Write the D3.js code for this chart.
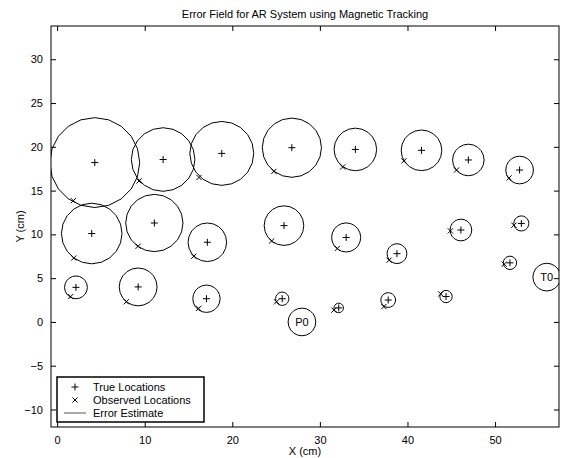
<!DOCTYPE html>
<html>
<head>
<meta charset="utf-8">
<script src="https://cdn.jsdelivr.net/npm/d3@7"></script>
<style>
body{margin:0;background:#fff;}
text{font-family:"Liberation Sans",Arial,Helvetica,sans-serif;}
</style>
</head>
<body>
<svg id="c" width="563" height="458"></svg>
<script>
// True locations (X, Y in cm)
const trueX = [4.3, 12.1, 18.8, 26.8, 34.05, 41.6, 46.95, 52.8,
               3.95, 11.1, 17.15, 25.9, 33.0, 38.8, 46.1, 53.0, 51.7,
               2.15, 9.25, 17.05, 25.7, 32.15, 37.8, 44.4];
const trueY = [18.2, 18.55, 19.25, 19.9, 19.7, 19.6, 18.5, 17.35,
               10.1, 11.3, 9.1, 11.0, 9.65, 7.8, 10.5, 11.25, 6.75,
               3.95, 4.0, 2.65, 2.65, 1.6, 2.5, 2.9];
// Observed locations
const obsX = [1.85, 9.35, 16.2, 24.75, 32.6, 39.6, 45.6, 51.6,
              1.9, 9.25, 15.6, 24.5, 32.0, 37.9, 44.9, 52.15, 51.05,
              1.55, 7.9, 16.15, 25.05, 31.6, 37.3, 43.8];
const obsY = [13.85, 16.1, 16.5, 17.2, 17.7, 18.4, 17.35, 16.45,
              7.3, 8.65, 7.5, 9.25, 8.4, 7.05, 10.4, 11.05, 6.6,
              2.9, 2.3, 1.55, 2.3, 1.35, 1.75, 3.2];
// Error estimate radius (cm)
const errR = [5.13, 3.63, 3.65, 3.38, 2.43, 2.32, 1.8, 1.58,
              3.46, 3.27, 2.2, 2.26, 1.66, 1.13, 1.24, 0.86, 0.76,
              1.3, 2.16, 1.56, 0.76, 0.54, 0.84, 0.7];
// Reference circles
const refLabels = ["P0", "T0"];
const refX = [27.95, 55.9];
const refY = [0.0, 5.12];
const refR = [1.58, 1.58];

const xTicks = [0, 10, 20, 30, 40, 50];
const yTicks = [-10, -5, 0, 5, 10, 15, 20, 25, 30];
const legendLabels = ["True Locations", "Observed Locations", "Error Estimate"];

const svg = d3.select("#c");
const L = 51, R = 559, T = 26, B = 427;
const x = d3.scaleLinear().domain([-0.7, 57.3]).range([L, R]);
const y = d3.scaleLinear().domain([-12, 33.8]).range([B, T]);
const k = x(1) - x(0);

svg.append("defs").append("clipPath").attr("id", "clip")
  .append("rect").attr("x", L).attr("y", T).attr("width", R - L).attr("height", B - T);

const plot = svg.append("g").attr("clip-path", "url(#clip)");

function poly(cx, cy, r, n) {
  const pts = d3.range(n + 1).map(i => {
    const a = i / n * 2 * Math.PI;
    return [x(cx) + r * k * Math.cos(a), y(cy) + r * k * Math.sin(a)];
  });
  return d3.line()(pts);
}

// error circles
trueX.forEach((v, i) => {
  plot.append("path").attr("d", poly(v, trueY[i], errR[i], 20))
    .attr("fill", "none").attr("stroke", "#000").attr("stroke-width", 1);
});
// reference circles
refX.forEach((v, i) => {
  plot.append("path").attr("d", poly(v, refY[i], refR[i], 20))
    .attr("fill", "none").attr("stroke", "#000").attr("stroke-width", 1);
  plot.append("text").attr("x", x(v)).attr("y", y(refY[i]) + 4)
    .attr("text-anchor", "middle").attr("font-size", 11).text(refLabels[i]);
});
// plus markers
const ps = 3.5;
trueX.forEach((v, i) => {
  const cx = x(v), cy = y(trueY[i]);
  plot.append("path").attr("d", `M${cx-ps},${cy}H${cx+ps}M${cx},${cy-ps}V${cy+ps}`)
    .attr("stroke", "#000").attr("stroke-width", 1);
});
// x markers
const xs = 2.6;
obsX.forEach((v, i) => {
  const cx = x(v), cy = y(obsY[i]);
  plot.append("path").attr("d", `M${cx-xs},${cy-xs}L${cx+xs},${cy+xs}M${cx-xs},${cy+xs}L${cx+xs},${cy-xs}`)
    .attr("stroke", "#000").attr("stroke-width", 1);
});

// axes box
svg.append("rect").attr("x", L).attr("y", T).attr("width", R - L).attr("height", B - T)
  .attr("fill", "none").attr("stroke", "#000").attr("stroke-width", 1);

const tl = 5;
const bottomAxis = d3.axisBottom(x).tickValues(xTicks).tickSizeInner(-tl).tickSizeOuter(0).tickPadding(9);
const gb = svg.append("g").attr("transform", `translate(0,${B})`).call(bottomAxis);
const topAxis = d3.axisTop(x).tickValues(xTicks).tickSizeInner(-tl).tickSizeOuter(0).tickFormat("");
const gt = svg.append("g").attr("transform", `translate(0,${T})`).call(topAxis);
const leftAxis = d3.axisLeft(y).tickValues(yTicks).tickSizeInner(-tl).tickSizeOuter(0).tickPadding(8)
  .tickFormat(d => d < 0 ? "\u2212" + Math.abs(d) : d);
const gl = svg.append("g").attr("transform", `translate(${L},0)`).call(leftAxis);
const rightAxis = d3.axisRight(y).tickValues(yTicks).tickSizeInner(-tl).tickSizeOuter(0).tickFormat("");
const gr = svg.append("g").attr("transform", `translate(${R},0)`).call(rightAxis);
[gb, gt, gl, gr].forEach(g => {
  g.select(".domain").remove();
  g.selectAll("text").attr("font-size", 11).attr("fill", "#000")
    .attr("font-family", '"Liberation Sans",Arial,sans-serif');
  g.selectAll("line").attr("stroke", "#000");
});

// title and labels
svg.append("text").attr("x", (L + R) / 2).attr("y", 18).attr("text-anchor", "middle")
  .attr("font-size", 11).text("Error Field for AR System using Magnetic Tracking");
svg.append("text").attr("x", (L + R) / 2).attr("y", 455).attr("text-anchor", "middle")
  .attr("font-size", 11).text("X (cm)");
svg.append("text").attr("transform", `translate(24,${(T + B) / 2}) rotate(-90)`)
  .attr("text-anchor", "middle").attr("font-size", 11).text("Y (cm)");

// legend
const lg = svg.append("g");
lg.append("rect").attr("x", 57).attr("y", 377).attr("width", 147).attr("height", 45)
  .attr("fill", "#fff").attr("stroke", "#000").attr("stroke-width", 1.5);
const ly = [387, 400, 413];
legendLabels.forEach((t, i) => {
  lg.append("text").attr("x", 93).attr("y", ly[i] + 4).attr("font-size", 11).text(t);
});
lg.append("path").attr("d", `M${75-ps},${ly[0]}H${75+ps}M75,${ly[0]-ps}V${ly[0]+ps}`).attr("stroke", "#000");
lg.append("path").attr("d", `M${75-xs},${ly[1]-xs}L${75+xs},${ly[1]+xs}M${75-xs},${ly[1]+xs}L${75+xs},${ly[1]-xs}`).attr("stroke", "#000");
lg.append("line").attr("x1", 64).attr("x2", 86).attr("y1", ly[2]).attr("y2", ly[2])
  .attr("stroke", "#555").attr("stroke-width", 1);
</script>
</body>
</html>
